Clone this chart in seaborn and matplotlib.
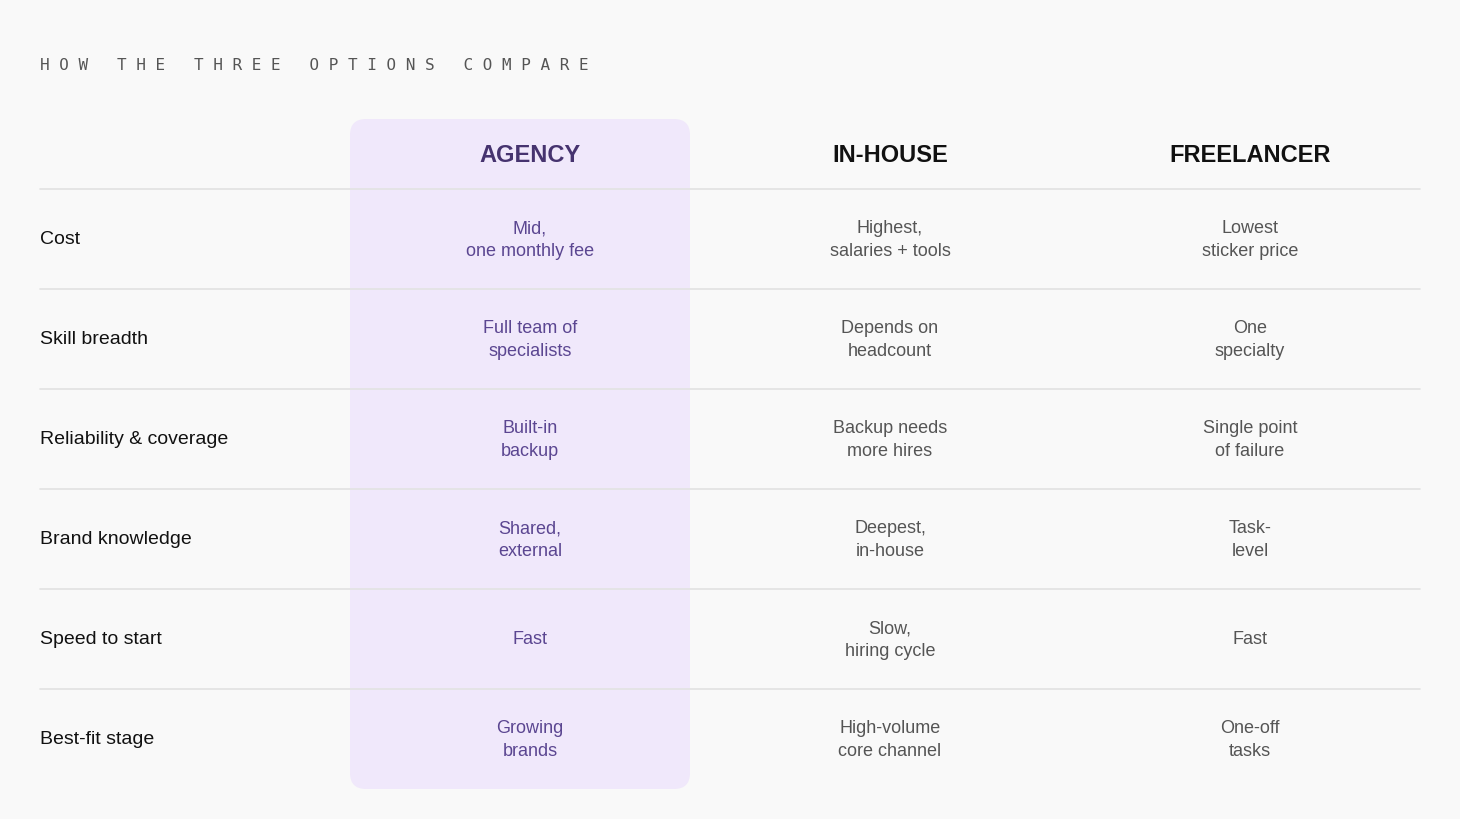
import matplotlib
matplotlib.use("Agg")
import matplotlib.pyplot as plt
import seaborn as sns
from matplotlib.patches import FancyBboxPatch

sns.set_theme(style="white")
plt.rcParams['font.family'] = ['Liberation Sans', 'DejaVu Sans']

title = "HOW THE THREE OPTIONS COMPARE"
columns = ["AGENCY", "IN-HOUSE", "FREELANCER"]
rows = ["Cost", "Skill breadth", "Reliability & coverage", "Brand knowledge", "Speed to start", "Best-fit stage"]
agency = ["Mid,\none monthly fee", "Full team of\nspecialists", "Built-in\nbackup", "Shared,\nexternal", "Fast", "Growing\nbrands"]
inhouse = ["Highest,\nsalaries + tools", "Depends on\nheadcount", "Backup needs\nmore hires", "Deepest,\nin-house", "Slow,\nhiring cycle", "High-volume\ncore channel"]
freelancer = ["Lowest\nsticker price", "One\nspecialty", "Single point\nof failure", "Task-\nlevel", "Fast", "One-off\ntasks"]

BG = "#f9f9f9"
fig = plt.figure(figsize=(14.6, 8.2), dpi=100, facecolor=BG)
ax = fig.add_axes([0, 0, 1, 1])
ax.set_xlim(0, 1460); ax.set_ylim(820, 0)
ax.axis("off"); ax.set_facecolor(BG)

ax.add_patch(FancyBboxPatch((350, 120), 340, 670, boxstyle="round,pad=0,rounding_size=16",
                            fc="#f0e8fb", ec="none", zorder=0))

ax.text(40, 65, " ".join(title), family="DejaVu Sans Mono", fontsize=11.5, color="#555555",
        va="center", ha="left")

col_x = [530, 890, 1250]
for i, c in enumerate(columns):
    ax.text(col_x[i], 156, c, ha="center", va="center", fontsize=17, fontweight="bold",
            color="#46336f" if i == 0 else "#111111")

for k in range(len(rows)):
    y0 = 190 + 100 * k
    ax.plot([40, 1420], [y0, y0], color="#e2e2e2", lw=1.2, zorder=1)
    yc = y0 + 50
    ax.text(40, yc, rows[k], ha="left", va="center", fontsize=14, color="#111111")
    ax.text(col_x[0], yc, agency[k], ha="center", va="center", fontsize=13, color="#5b4691", linespacing=1.45)
    ax.text(col_x[1], yc, inhouse[k], ha="center", va="center", fontsize=13, color="#555555", linespacing=1.45)
    ax.text(col_x[2], yc, freelancer[k], ha="center", va="center", fontsize=13, color="#555555", linespacing=1.45)

fig.savefig("out.png", dpi=100, facecolor=BG)
